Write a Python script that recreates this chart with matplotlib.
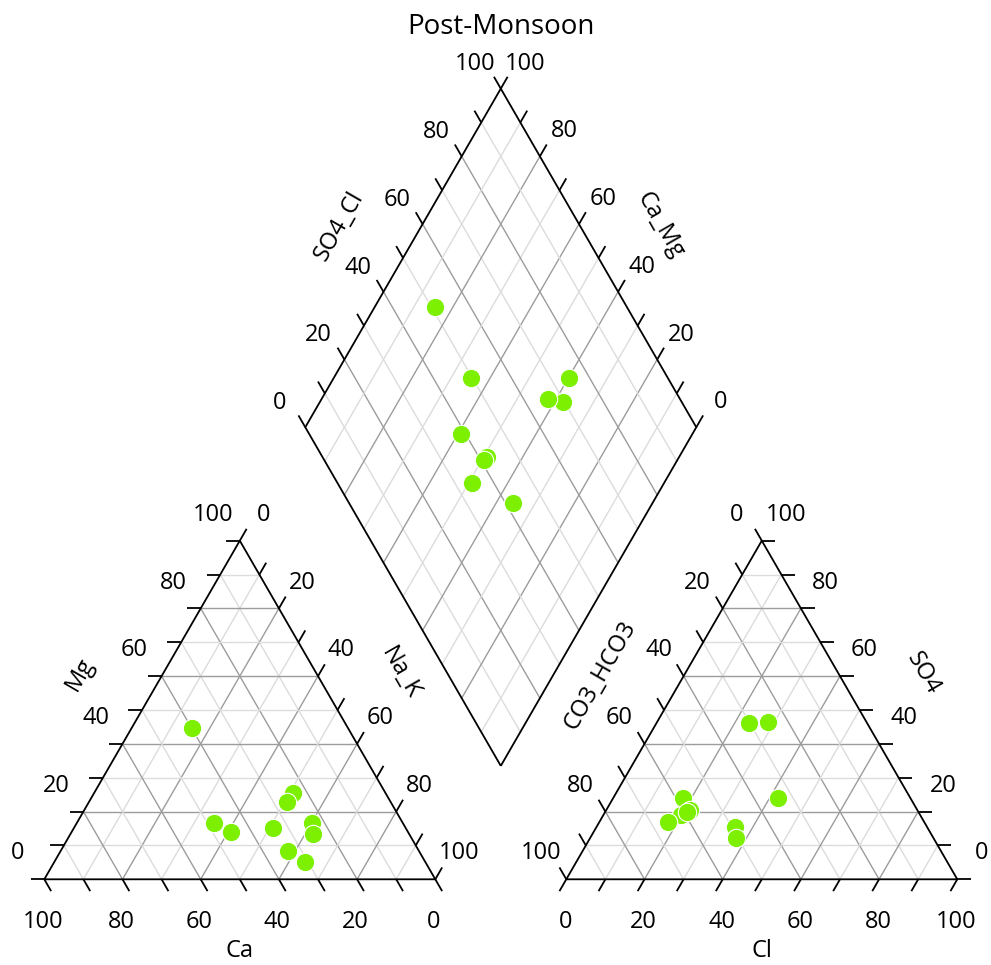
import numpy as np
import matplotlib
matplotlib.use('Agg')
import matplotlib.pyplot as plt

plt.rcParams['font.family'] = ['Open Sans', 'DejaVu Sans']

# Post-monsoon major ion composition (% meq/L)
sample_ids = ['S1', 'S2', 'S3', 'S4', 'S5', 'S6', 'S7', 'S8', 'S9', 'S10']
ca = [40.0, 48.3, 45.3, 23.2, 24.6, 33.6, 30.8, 33.9, 23.7, 26.7]
mg = [44.6, 16.7, 13.9, 16.5, 13.3, 8.4, 5.0, 15.1, 25.6, 22.7]
na_k = [15.4, 35.0, 40.8, 60.3, 62.1, 58.0, 64.2, 51.0, 50.7, 50.6]
co3_hco3 = [49.0, 50.4, 61.1, 25.2, 30.3, 33.8, 58.2, 65.6, 58.0, 59.0]
so4 = [15.5, 12.3, 19.0, 46.4, 46.1, 23.9, 23.9, 16.8, 20.5, 20.0]
cl = [35.5, 37.3, 19.9, 28.4, 23.6, 42.3, 17.9, 17.6, 21.5, 21.0]

tick_values = [0, 20, 40, 60, 80, 100]

H = np.sqrt(3) / 2
GAP = 0.335
TICK = 0.035
X_AN = 1 + GAP                       # left corner of anion triangle
BOT = np.array([1 + GAP / 2, GAP * H])  # bottom corner of diamond
U1 = np.array([0.5, H])               # diamond: SO4+Cl direction
U2 = np.array([-0.5, H])              # diamond: Ca+Mg direction

EDGE = dict(color='black', lw=1.3, solid_capstyle='butt', zorder=3)
MAJOR = dict(color='#9c9c9c', lw=1.0, zorder=1)
MINOR = dict(color='#dcdcdc', lw=1.0, zorder=1)
FS = 17


def tri_point(x0, right, top):
    return x0 + right + top / 2, top * H


def diamond_point(s, c):
    x = BOT[0] + s * U1[0] + c * U2[0]
    y = BOT[1] + s * U1[1] + c * U2[1]
    return x, y


def draw_triangle(ax, x0):
    ax.plot([x0, x0 + 1, x0 + 0.5, x0], [0, 0, H, 0], **EDGE)
    for k in range(1, 10):
        f = k / 10
        st = MAJOR if k % 2 == 0 else MINOR
        # constant top component
        ax.plot([x0 + f / 2, x0 + 1 - f / 2], [f * H, f * H], **st)
        # constant right component
        ax.plot([x0 + f, x0 + f + (1 - f) / 2], [0, (1 - f) * H], **st)
        # constant left component
        ax.plot([x0 + 1 - f, x0 + (1 - f) / 2], [0, (1 - f) * H], **st)


def draw_diamond(ax):
    corners = [BOT, BOT + U1, BOT + U1 + U2, BOT + U2, BOT]
    ax.plot([p[0] for p in corners], [p[1] for p in corners], **EDGE)
    for k in range(1, 10):
        f = k / 10
        st = MAJOR if k % 2 == 0 else MINOR
        a, b = BOT + f * U1, BOT + f * U1 + U2
        ax.plot([a[0], b[0]], [a[1], b[1]], **st)
        a, b = BOT + f * U2, BOT + f * U2 + U1
        ax.plot([a[0], b[0]], [a[1], b[1]], **st)


def ticks(ax, points, direction):
    d = np.array(direction) / np.hypot(*direction) * TICK
    for x, y in points:
        ax.plot([x, x + d[0]], [y, y + d[1]], **EDGE)


def labels(ax, points, values, offset):
    for (x, y), v in zip(points, values):
        ax.text(x + offset[0], y + offset[1], str(v), ha='center', va='center', fontsize=FS)


fig = plt.figure(figsize=(9.91, 9.65), dpi=100)
ax = fig.add_axes([0, 0, 1, 1])
ax.set_xlim(-44.3 / 391, (991 - 44.3) / 391)
ax.set_ylim((879.3 - 965) / 391, 879.3 / 391)
ax.axis('off')

fracs = np.linspace(0, 1, 11)

# cation triangle
draw_triangle(ax, 0)
ticks(ax, [tri_point(0, 0, f) for f in fracs], (-1, 0))            # Mg
ticks(ax, [(1 - f, 0) for f in fracs], (0.5, -H))                   # Ca
ticks(ax, [tri_point(0, f, 1 - f) for f in fracs], (0.5, H))        # Na_K
tv = np.array(tick_values) / 100
labels(ax, [tri_point(0, 0, f) for f in tv], tick_values, (-0.069, 0.066))
labels(ax, [(1 - f, 0) for f in tv], tick_values, (-0.004, -0.11))
labels(ax, [tri_point(0, f, 1 - f) for f in tv], tick_values, (0.06, 0.066))
ax.text(0.25 - 0.158, 0.433 + 0.092, 'Mg', rotation=60, ha='center', va='center', fontsize=FS)
ax.text(0.75 + 0.16, 0.433 + 0.095, 'Na_K', rotation=-60, ha='center', va='center', fontsize=FS)
ax.text(0.5, -0.184, 'Ca', ha='center', va='center', fontsize=FS)

# anion triangle
draw_triangle(ax, X_AN)
ticks(ax, [tri_point(X_AN, 0, 1 - f) for f in fracs], (-0.5, H))    # CO3_HCO3
ticks(ax, [(X_AN + f, 0) for f in fracs], (-0.5, -H))               # Cl
ticks(ax, [tri_point(X_AN, 1 - f, f) for f in fracs], (1, 0))       # SO4
labels(ax, [tri_point(X_AN, 0, 1 - f) for f in tv], tick_values, (-0.064, 0.066))
labels(ax, [(X_AN + f, 0) for f in tv], tick_values, (-0.002, -0.11))
labels(ax, [tri_point(X_AN, 1 - f, f) for f in tv], tick_values, (0.063, 0.066))
ax.text(X_AN + 0.25 - 0.164, 0.433 + 0.088, 'CO3_HCO3', rotation=60, ha='center', va='center', fontsize=FS)
ax.text(X_AN + 0.75 + 0.162, 0.433 + 0.094, 'SO4', rotation=-60, ha='center', va='center', fontsize=FS)
ax.text(X_AN + 0.5, -0.184, 'Cl', ha='center', va='center', fontsize=FS)

# diamond
draw_diamond(ax)
ticks(ax, [diamond_point(f, 1) for f in fracs], (-0.5, H))          # SO4_Cl
ticks(ax, [diamond_point(1, f) for f in fracs], (0.5, H))           # Ca_Mg
labels(ax, [diamond_point(f, 1) for f in tv], tick_values, (-0.066, 0.062))
labels(ax, [diamond_point(1, f) for f in tv], tick_values, (0.062, 0.064))
mid_l = BOT + U2 + 0.5 * U1
mid_r = BOT + U1 + 0.5 * U2
ax.text(mid_l[0] - 0.164, mid_l[1] + 0.082, 'SO4_Cl', rotation=60, ha='center', va='center', fontsize=FS)
ax.text(mid_r[0] + 0.158, mid_r[1] + 0.082, 'Ca_Mg', rotation=-60, ha='center', va='center', fontsize=FS)

ax.text(BOT[0], 2.18, 'Post-Monsoon', ha='center', va='center', fontsize=20)

# samples
ca_a, mg_a, nak_a = (np.array(v) / 100 for v in (ca, mg, na_k))
hco3_a, so4_a, cl_a = (np.array(v) / 100 for v in (co3_hco3, so4, cl))
cx, cy = tri_point(0, nak_a, mg_a)
axx, ayy = tri_point(X_AN, cl_a, so4_a)
dx, dy = diamond_point(so4_a + cl_a, ca_a + mg_a)
marker = dict(s=175, c='#7cf000', edgecolors='white', linewidths=0.8, zorder=5)
ax.scatter(cx, cy, **marker)
ax.scatter(axx, ayy, **marker)
ax.scatter(dx, dy, **marker)

fig.savefig('out.png', dpi=100)
